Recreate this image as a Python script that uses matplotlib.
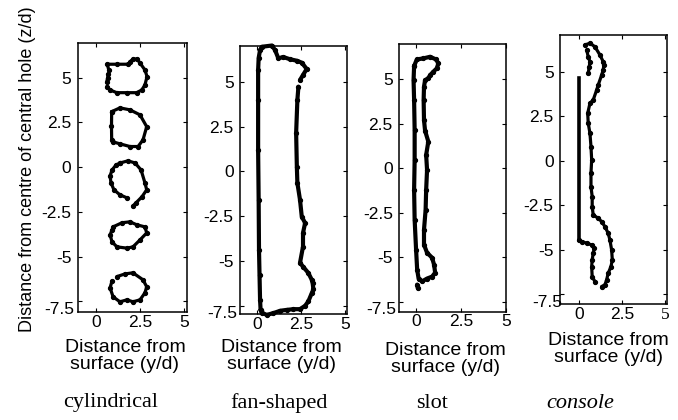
import numpy as np
import matplotlib
matplotlib.use("Agg")
import matplotlib.pyplot as plt

nan = np.nan

# ---- data (y/d, z/d) ----
# cylindrical: five separate hole traces
cyl_x = [
    [0.72, 0.64, 1.20, 1.83, 1.93, 2.10, 2.33, 2.50, 2.78, 2.90, 2.78, 2.60, 2.31, 1.74, 1.18, 0.80, 0.61, nan, 0.61, 0.66, 0.70],
    [0.89, 1.36, 1.93, 2.50, 2.88, 2.67, 2.39, 1.93, 1.36, 0.97, 0.89, 0.88, 0.89],
    [1.36, 1.82, 2.22, 2.56, 2.78, 2.88, 2.61, 2.27, 2.10, nan, 1.76, 1.36, 1.02, 0.85, 0.80, 0.91, 1.14, 1.36],
    [0.97, 1.48, 1.93, 2.33, 2.78, 2.88, 2.50, 2.10, 1.76, 1.19, 0.91, 0.80, 0.91],
    [1.19, 1.65, 2.10, 2.67, 2.88, 2.78, 2.50, 2.10, 1.76, 1.36, 0.97, 0.80, 0.91],
]
cyl_y = [
    [5.45, 5.75, 5.75, 5.75, 5.89, 6.04, 6.04, 5.82, 5.43, 5.06, 4.59, 4.31, 4.16, 4.16, 4.16, 4.31, 4.50, nan, 4.75, 5.00, 5.20],
    [3.10, 3.31, 3.20, 2.92, 2.26, 1.52, 1.15, 1.15, 1.30, 1.41, 1.52, 2.30, 3.10],
    [0.23, 0.35, 0.23, -0.16, -0.88, -1.27, -1.66, -2.00, -2.17, nan, -1.72, -1.55, -1.27, -0.88, -0.49, -0.16, 0.12, 0.23],
    [-3.34, -3.11, -3.06, -3.23, -3.34, -3.68, -4.07, -4.46, -4.53, -4.46, -4.18, -3.79, -3.51],
    [-6.12, -5.97, -5.91, -6.30, -6.69, -7.03, -7.42, -7.53, -7.42, -7.53, -7.25, -6.75, -6.36],
]

# fan-shaped
fan_x = [0.20, 0.17, 0.14, 0.11, 0.09, 0.06, 0.06, 0.06, 0.09, 0.17, 0.27,
         0.84, 1.02, 1.21, 1.48, 1.88, 2.26, 2.54, 2.82, 2.61, 2.44, nan, 2.35,
         2.29, 2.22, 2.26, 2.29, 2.44, 2.54, 2.73, 2.61, 2.61, 2.44, 2.61, 2.91,
         3.11, 3.16, 3.20, 3.11, 2.91, 2.73, 2.44,
         2.06, 1.69, 1.31, 0.93, 0.55, 0.27, 0.20]
fan_y = [-7.74, -7.18, -5.80, -4.39, -1.59, 1.20, 3.99, 5.67, 6.34, 6.79, 6.97,
         7.04, 6.79, 6.32, 6.40, 6.27, 6.19, 6.08, 5.73, 5.39, 5.11, nan, 4.74,
         3.99, 2.15, 0.27, -0.64, -1.59, -2.53, -2.88, -3.44, -4.20, -5.11, -5.32, -5.67,
         -6.06, -6.25, -6.60, -6.80, -7.27, -7.51, -7.70,
         -7.70, -7.74, -7.79, -7.92, -8.02, -7.90, -7.74]

# slot
slot_x = [-0.11, 0.04, 0.41, 0.78, 1.11, 1.24, 1.15, 0.96, 0.78, 0.68, 0.50, 0.44,
          0.42, 0.44, 0.50, 0.68, 0.56, 0.61, 0.56, 0.53, 0.44, 0.44, 0.61, 0.89,
          1.00, 1.06, 0.89, 0.61, 0.33, 0.14, 0.06, 0.00, -0.08, -0.11, -0.08,
          -0.08, -0.11, -0.14, -0.11, nan, 0.06, 0.10]
slot_y = [5.73, 6.10, 6.16, 6.25, 6.10, 5.88, 5.60, 5.41, 5.22, 5.04, 4.94, 4.57,
          3.82, 2.70, 2.10, 1.49, 0.74, -0.10, -1.22, -2.34, -3.46, -4.30, -4.75, -5.03,
          -5.42, -5.87, -6.09, -6.20, -6.36, -6.20, -5.70, -4.58, -2.90, -1.22, 0.46,
          2.14, 3.82, 4.94, 5.73, nan, -6.54, -6.75]

# console
con_wall_x = [0.0, 0.0]
con_wall_y = [4.63, -4.46]
con_out_x = [0.35, 0.64, 0.93, 1.22, 1.41, 1.45, 1.41, 1.32, 1.12, 1.03, 0.83, 0.64,
             0.51, 0.54, 0.64, 0.70, 0.74, 0.70, 0.70, 0.77, 0.77, 0.83, 1.12, 1.32,
             1.51, 1.70, 1.80, 1.90, 1.94, 1.86, 1.70, 1.61, 1.51, 1.32]
con_out_y = [6.50, 6.60, 6.40, 5.94, 5.56, 5.38, 5.10, 4.81, 4.25, 3.97, 3.41, 3.22,
             2.66, 2.10, 1.54, 0.79, 0.04, -0.71, -1.46, -2.02, -2.58, -3.05, -3.24, -3.43,
             -3.71, -4.08, -4.46, -5.02, -5.58, -5.96, -6.33, -6.70, -6.98, -7.08]
con_in_x = [0.45, 0.54, 0.64, 0.60, 0.54]
con_in_y = [6.22, 5.84, 5.56, 5.28, 4.91]
con_low_x = [0.00, 0.16, 0.45, 0.74, 0.89, 0.83, 0.77, 0.74, 0.77, 0.93]
con_low_y = [-4.46, -4.55, -4.64, -4.74, -4.92, -5.20, -5.58, -5.96, -6.52, -6.80]

categories = ["cylindrical", "fan-shaped", "slot", "console"]
yticks = [-7.5, -5, -2.5, 0, 2.5, 5]
ytick_labels = ["", "-5", "-2.5", "0", "2.5", "5"]
xticks = [0, 2.5, 5]
xtick_labels = ["0", "2.5", "5"]

plt.rcParams["font.family"] = "Liberation Sans"

W, H = 678, 420
fig = plt.figure(figsize=(W / 100, H / 100), dpi=100)

# axes boxes in pixels: left, top, right, bottom
boxes = [(77.7, 43.3, 187, 312), (240, 45.7, 347, 314),
         (399, 44.3, 506, 311.7), (560, 35, 666.7, 304)]
xlims = [(-1.04, 5.17), (-0.97, 5.11), (-0.95, 5.0), (-1.10, 5.10)]
ylims = [(-8.10, 6.92), (-7.97, 7.03), (-8.06, 6.95), (-8.06, 7.06)]

TICK_FS = 12.5

axs = []
for (l, t, r, b), xl, yl in zip(boxes, xlims, ylims):
    ax = fig.add_axes([l / W, 1 - b / H, (r - l) / W, (b - t) / H])
    ax.set_xlim(xl)
    ax.set_ylim(yl)
    ax.set_yticks(yticks, labels=ytick_labels)
    ax.set_xticks(xticks, labels=xtick_labels)
    ax.tick_params(direction="in", top=True, right=True, length=3, width=0.8,
                   labelsize=TICK_FS, colors="black")
    ax.tick_params(axis="y", pad=4.5)
    ax.tick_params(axis="x", pad=2)
    for s in ax.spines.values():
        s.set_linewidth(1.1)
    axs.append(ax)

kw = dict(color="black", lw=2.3, marker="o", ms=2.8, clip_on=False,
          solid_capstyle="round")
for xs, ys in zip(cyl_x, cyl_y):
    axs[0].plot(xs, ys, **kw)
axs[1].plot(fan_x, fan_y, **dict(kw, lw=3.0))
axs[2].plot(slot_x, slot_y, **dict(kw, lw=3.0))
axs[3].plot(con_wall_x, con_wall_y, color="black", lw=2.6)
axs[3].plot(con_out_x, con_out_y, **kw)
axs[3].plot(con_in_x, con_in_y, **kw)
axs[3].plot(con_low_x, con_low_y, **kw)

# the -7.5 labels sit a bit lower than their ticks in the original
shifts = [(2.2, -5.8), (2.2, -5.8), (2.2, -5.8), (5.8, -5.8)]
for ax, (dx, dy) in zip(axs, shifts):
    ax.annotate("-7.5", xy=(0, -7.5), xycoords=("axes fraction", "data"),
                xytext=(-4.5 + dx, dy), textcoords="offset points",
                ha="right", va="center", fontsize=TICK_FS)

# last panel: the "5" tick label is in a serif face
axs[3].set_xticks(xticks, labels=["0", "2.5", ""])
axs[3].annotate("5", xy=(5, 0), xycoords=("data", "axes fraction"),
                xytext=(0, -2), textcoords="offset points", ha="center", va="top",
                fontsize=TICK_FS, family="Liberation Serif")

fig.text(28 / W, 1 - 169 / H, "Distance from centre of central hole (z/d)",
         rotation=90, ha="center", va="center", fontsize=13)

xlab_pos = [(125, 356), (281.5, 356), (445.7, 359), (608.5, 349)]
for (x, y) in xlab_pos:
    fig.text(x / W, 1 - y / H, "Distance from\nsurface (y/d)", ha="center",
             va="center", fontsize=14, linespacing=0.95)

cat_pos = [(111, 403), (279, 403), (432, 403), (580, 403)]
for name, (x, y) in zip(categories, cat_pos):
    fig.text(x / W, 1 - y / H, name, ha="center", va="center", fontsize=16,
             family="Liberation Serif",
             style="italic" if name == "console" else "normal")

fig.savefig("out.png", dpi=100)
